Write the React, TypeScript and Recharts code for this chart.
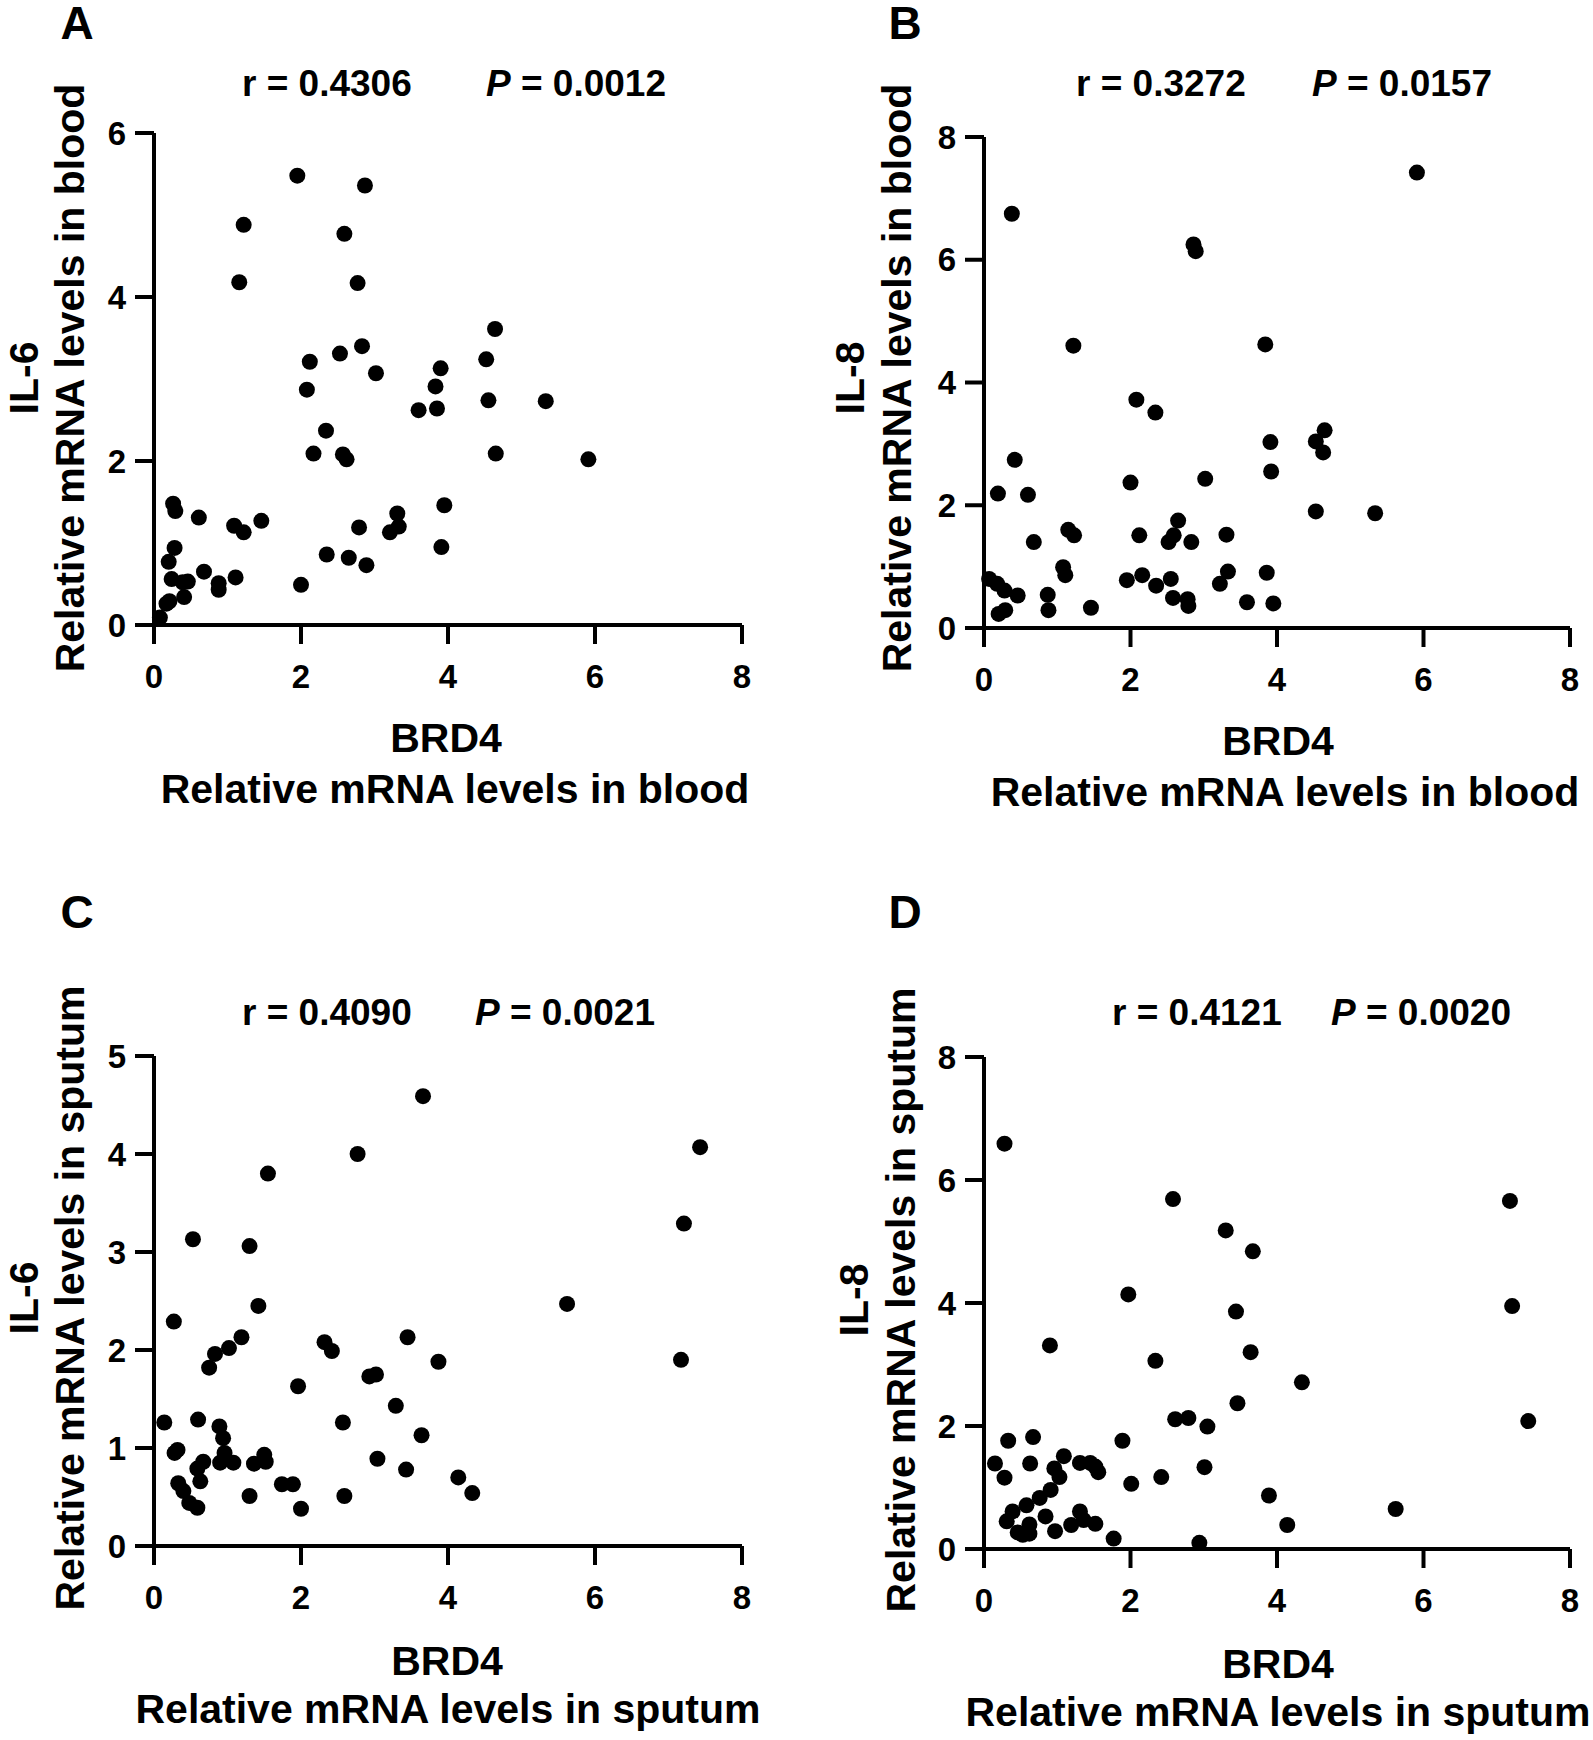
import React from "react";
import { ScatterChart, Scatter, XAxis, YAxis } from "recharts";

const FONT = '"Liberation Sans", Arial, Helvetica, sans-serif';

// x axis is the same in all four panels
const xTicks = [0, 2, 4, 6, 8];

// A: BRD4 vs IL-6 in blood
const aBrd4 = [1.95, 2.87, 1.22, 2.59, 1.16, 2.77, 4.64, 2.83, 2.53, 2.12, 4.52, 3.02, 3.9, 2.08, 3.83, 3.6, 3.85, 4.55, 5.33, 2.34, 2.17, 2.57, 2.62, 4.65, 5.91, 0.26, 0.29, 0.61, 1.46, 1.09, 1.22, 3.95, 3.31, 3.33, 3.21, 2.79, 0.28, 3.91, 2.35, 2.65, 2.89, 0.2, 0.68, 0.24, 0.46, 0.88, 0.88, 1.11, 2.0, 0.41, 0.21, 0.17, 0.08, 0.39];
const aIl6 = [5.48, 5.36, 4.88, 4.77, 4.18, 4.17, 3.61, 3.4, 3.31, 3.21, 3.24, 3.07, 3.13, 2.87, 2.91, 2.62, 2.64, 2.74, 2.73, 2.37, 2.09, 2.08, 2.02, 2.09, 2.02, 1.48, 1.39, 1.31, 1.27, 1.21, 1.13, 1.46, 1.36, 1.2, 1.13, 1.19, 0.94, 0.95, 0.86, 0.82, 0.73, 0.77, 0.65, 0.56, 0.53, 0.51, 0.43, 0.58, 0.49, 0.34, 0.29, 0.26, 0.09, 0.52];
const aTicks = [0, 2, 4, 6];

// B: BRD4 vs IL-8 in blood
const bBrd4 = [5.91, 0.38, 2.86, 2.89, 1.22, 3.84, 2.08, 2.34, 4.65, 4.53, 3.91, 4.63, 0.42, 3.92, 3.02, 2.0, 0.19, 0.6, 4.53, 5.34, 2.65, 1.15, 1.23, 2.12, 3.31, 2.59, 2.52, 2.83, 0.68, 1.08, 1.11, 3.33, 3.86, 2.16, 1.95, 2.55, 3.22, 2.35, 0.07, 0.18, 0.28, 0.46, 0.87, 0.88, 0.2, 0.29, 1.46, 2.58, 2.78, 2.79, 3.59, 3.95];
const bIl8 = [7.42, 6.75, 6.25, 6.14, 4.6, 4.62, 3.72, 3.51, 3.22, 3.04, 3.03, 2.86, 2.74, 2.55, 2.43, 2.37, 2.19, 2.17, 1.9, 1.87, 1.75, 1.6, 1.51, 1.51, 1.52, 1.51, 1.4, 1.4, 1.4, 0.99, 0.86, 0.92, 0.9, 0.86, 0.78, 0.8, 0.72, 0.69, 0.8, 0.72, 0.61, 0.53, 0.54, 0.29, 0.23, 0.29, 0.33, 0.49, 0.47, 0.36, 0.42, 0.4];
const bTicks = [0, 2, 4, 6, 8];

// C: BRD4 vs IL-6 in sputum
const cBrd4 = [3.66, 7.43, 2.77, 1.55, 0.53, 1.3, 7.21, 5.62, 1.42, 0.27, 1.19, 3.45, 2.32, 2.42, 1.02, 0.83, 0.75, 3.87, 7.17, 2.93, 3.02, 1.96, 3.29, 0.14, 0.6, 2.57, 0.89, 0.94, 3.64, 0.28, 0.32, 0.96, 1.5, 0.9, 1.08, 1.36, 1.52, 0.67, 0.59, 0.63, 3.04, 3.43, 0.33, 0.4, 1.74, 1.89, 4.14, 4.33, 1.3, 2.59, 0.48, 0.59, 2.0];
const cIl6 = [4.59, 4.07, 4.0, 3.8, 3.13, 3.06, 3.29, 2.47, 2.45, 2.29, 2.13, 2.13, 2.08, 1.99, 2.02, 1.96, 1.82, 1.88, 1.9, 1.73, 1.75, 1.63, 1.43, 1.26, 1.29, 1.26, 1.22, 1.1, 1.13, 0.95, 0.98, 0.95, 0.93, 0.85, 0.85, 0.84, 0.86, 0.86, 0.79, 0.66, 0.89, 0.78, 0.64, 0.56, 0.63, 0.63, 0.7, 0.54, 0.51, 0.51, 0.44, 0.39, 0.38];
const cTicks = [0, 1, 2, 3, 4, 5];

// D: BRD4 vs IL-8 in sputum
const dBrd4 = [0.28, 2.58, 7.18, 3.3, 3.67, 1.97, 7.21, 3.44, 0.9, 3.64, 2.34, 4.34, 3.46, 2.61, 2.79, 3.05, 7.43, 0.33, 0.67, 1.89, 1.09, 0.15, 0.63, 1.31, 1.45, 1.52, 1.56, 0.96, 1.03, 0.28, 3.01, 2.42, 2.01, 0.91, 0.76, 0.58, 0.39, 0.31, 0.84, 3.89, 5.62, 1.31, 1.36, 1.52, 1.19, 0.62, 0.46, 0.53, 0.62, 0.97, 4.14, 1.77, 2.94];
const dIl8 = [6.59, 5.69, 5.66, 5.18, 4.84, 4.14, 3.95, 3.86, 3.31, 3.2, 3.06, 2.71, 2.37, 2.11, 2.13, 1.99, 2.08, 1.76, 1.82, 1.76, 1.51, 1.39, 1.39, 1.4, 1.4, 1.34, 1.25, 1.31, 1.17, 1.16, 1.33, 1.17, 1.06, 0.96, 0.83, 0.71, 0.61, 0.45, 0.53, 0.87, 0.65, 0.61, 0.47, 0.41, 0.39, 0.4, 0.27, 0.23, 0.25, 0.29, 0.39, 0.17, 0.1];
const dTicks = [0, 2, 4, 6, 8];

type Box = { left: number; top: number; right: number; bottom: number };

const Dot = (p: any) => <circle cx={p.cx} cy={p.cy} r={8} fill="#000" />;

const tickStyle = { fontSize: 33, fontWeight: 700, fill: "#000", fontFamily: FONT };
const lineStyle = { stroke: "#000", strokeWidth: 4 };

function Panel({ box, xs, ys, yTicks }: { box: Box; xs: number[]; ys: number[]; yTicks: number[] }) {
  const data = xs.map((x, i) => ({ x, y: ys[i] }));
  const w = box.right - box.left;
  const h = box.bottom - box.top;
  return (
    <div style={{ position: "absolute", left: box.left - 120, top: box.top - 30 }}>
      <ScatterChart width={w + 160} height={h + 130} margin={{ top: 30, right: 40, bottom: 0, left: 0 }}>
        <XAxis
          type="number"
          dataKey="x"
          domain={[0, 8]}
          ticks={xTicks}
          height={100}
          tickSize={19}
          tickMargin={21}
          axisLine={lineStyle}
          tickLine={lineStyle}
          tick={tickStyle}
        />
        <YAxis
          type="number"
          dataKey="y"
          domain={[0, yTicks[yTicks.length - 1]]}
          ticks={yTicks}
          width={120}
          tickSize={19}
          tickMargin={9}
          axisLine={lineStyle}
          tickLine={lineStyle}
          tick={tickStyle}
        />
        <Scatter data={data} isAnimationActive={false} shape={Dot} />
      </ScatterChart>
    </div>
  );
}

function Txt({ x, y, size, children, rotate, anchor }: any) {
  const tx = anchor === "start" ? "0" : "-50%";
  return (
    <div
      style={{
        position: "absolute",
        left: x,
        top: y,
        transform: `translate(${tx}, -50%)${rotate ? " rotate(-90deg)" : ""}`,
        transformOrigin: anchor === "start" ? "left center" : "center",
        fontFamily: FONT,
        fontWeight: 700,
        fontSize: size,
        lineHeight: 1,
        whiteSpace: "nowrap",
        color: "#000",
      }}
    >
      {children}
    </div>
  );
}

function Stats({ x1, x2, y, r, p }: any) {
  return (
    <>
      <Txt x={x1} y={y} size={37} anchor="start">r = {r}</Txt>
      <Txt x={x2} y={y} size={37} anchor="start">
        <i>P</i> = {p}
      </Txt>
    </>
  );
}

export default function App() {
  return (
    <div style={{ position: "absolute", left: 0, top: 0, width: 1593, height: 1740, background: "#fff" }}>
      <Panel box={{ left: 154, top: 133, right: 742, bottom: 625 }} xs={aBrd4} ys={aIl6} yTicks={aTicks} />
      <Panel box={{ left: 984, top: 137, right: 1570, bottom: 628 }} xs={bBrd4} ys={bIl8} yTicks={bTicks} />
      <Panel box={{ left: 154, top: 1056, right: 742, bottom: 1546 }} xs={cBrd4} ys={cIl6} yTicks={cTicks} />
      <Panel box={{ left: 984, top: 1057, right: 1570, bottom: 1549 }} xs={dBrd4} ys={dIl8} yTicks={dTicks} />

      <Txt x={77} y={23} size={46}>A</Txt>
      <Txt x={905} y={23} size={46}>B</Txt>
      <Txt x={77} y={912} size={46}>C</Txt>
      <Txt x={905} y={912} size={46}>D</Txt>

      <Stats x1={242} x2={486} y={83} r="0.4306" p="0.0012" />
      <Stats x1={1076} x2={1312} y={83} r="0.3272" p="0.0157" />
      <Stats x1={242} x2={475} y={1012} r="0.4090" p="0.0021" />
      <Stats x1={1112} x2={1331} y={1012} r="0.4121" p="0.0020" />

      <Txt x={446} y={738} size={41}>BRD4</Txt>
      <Txt x={455} y={789} size={41}>Relative mRNA levels in blood</Txt>
      <Txt x={1278} y={741} size={41}>BRD4</Txt>
      <Txt x={1285} y={792} size={41}>Relative mRNA levels in blood</Txt>
      <Txt x={447} y={1661} size={41}>BRD4</Txt>
      <Txt x={448} y={1709} size={41}>Relative mRNA levels in sputum</Txt>
      <Txt x={1278} y={1664} size={41}>BRD4</Txt>
      <Txt x={1278} y={1712} size={41}>Relative mRNA levels in sputum</Txt>

      <Txt x={24} y={378} size={41} rotate>IL-6</Txt>
      <Txt x={70} y={378} size={41} rotate>Relative mRNA levels in blood</Txt>
      <Txt x={850} y={378} size={41} rotate>IL-8</Txt>
      <Txt x={897} y={378} size={41} rotate>Relative mRNA levels in blood</Txt>
      <Txt x={24} y={1298} size={41} rotate>IL-6</Txt>
      <Txt x={70} y={1298} size={41} rotate>Relative mRNA levels in sputum</Txt>
      <Txt x={854} y={1300} size={41} rotate>IL-8</Txt>
      <Txt x={901} y={1300} size={41} rotate>Relative mRNA levels in sputum</Txt>
    </div>
  );
}
